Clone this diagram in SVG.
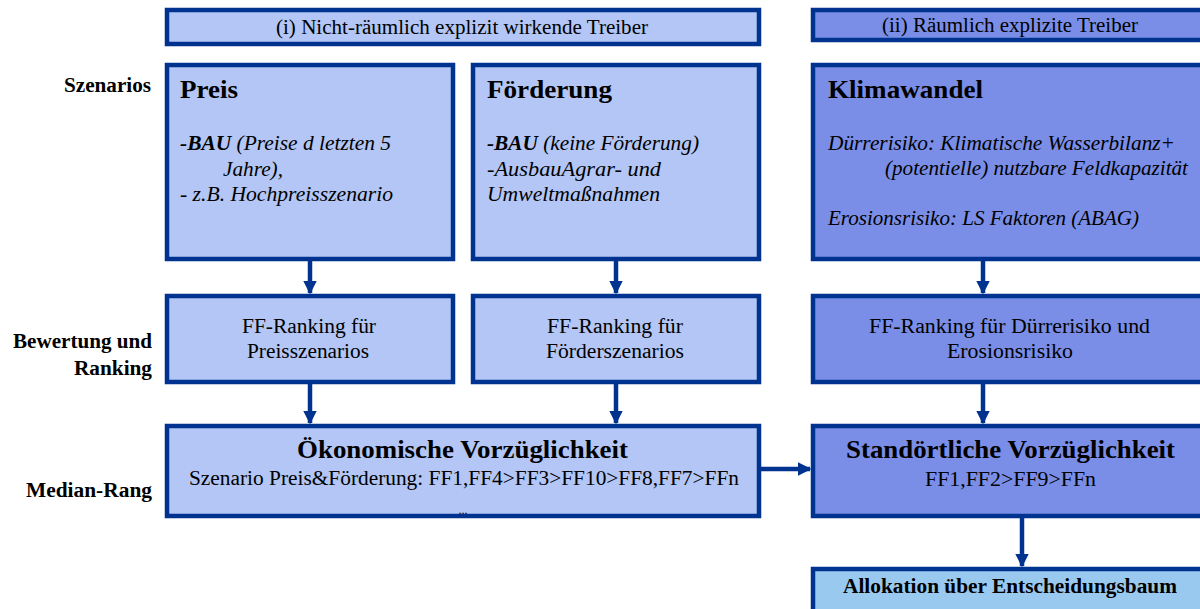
<svg xmlns="http://www.w3.org/2000/svg" width="1200" height="609" viewBox="0 0 1200 609" font-family="'Liberation Serif', 'DejaVu Serif', serif">
<style>
.lt{fill:#b3c6f5;stroke:#00338f;stroke-width:4.5}
.dk{fill:#7a8ee8;stroke:#00338f;stroke-width:4.5}
.al{fill:#9ac9f0;stroke:#00338f;stroke-width:4.5}
text{font-family:'Liberation Serif','DejaVu Serif',serif;fill:#000}
.lbl{font-weight:bold;font-size:20px}
.hd{font-size:20px}
.ttl{font-weight:bold;font-size:26px}
.it{font-style:italic;font-size:20px}
.c{font-size:20px}
.bt{font-weight:bold;font-size:26px}
.con{stroke:#00338f;stroke-width:4.5;fill:none}
</style>
<defs>
<marker id="ah" viewBox="0 0 10 10" refX="9" refY="5" markerWidth="3" markerHeight="3" orient="auto" markerUnits="strokeWidth">
<path d="M0,0 L10,5 L0,10 z" fill="#00338f"/>
</marker>
</defs>
<g id="row-labels">
<text class="lbl" x="64" y="92" textLength="87" lengthAdjust="spacingAndGlyphs">Szenarios</text>
<text class="lbl" x="13" y="348" textLength="139" lengthAdjust="spacingAndGlyphs">Bewertung und</text>
<text class="lbl" x="74" y="375" textLength="78" lengthAdjust="spacingAndGlyphs">Ranking</text>
<text class="lbl" x="26" y="497" textLength="126" lengthAdjust="spacingAndGlyphs">Median-Rang</text>
</g>
<g id="header-i">
<rect class="lt" x="167" y="10" width="592" height="34"/>
<text class="hd" x="276" y="34" textLength="372" lengthAdjust="spacingAndGlyphs">(i) Nicht-räumlich explizit wirkende Treiber</text>
</g>
<g id="header-ii">
<rect class="dk" x="813" y="10" width="400" height="30"/>
<text class="hd" x="882" y="32" textLength="256" lengthAdjust="spacingAndGlyphs">(ii) Räumlich explizite Treiber</text>
</g>
<g id="preis">
<rect class="lt" x="167" y="65" width="286" height="194"/>
<text class="ttl" x="180" y="98" textLength="58" lengthAdjust="spacingAndGlyphs">Preis</text>
<text class="it" x="180" y="150" textLength="211" lengthAdjust="spacingAndGlyphs"><tspan font-weight="bold">-BAU</tspan> (Preise d letzten 5</text>
<text class="it" x="223" y="176" textLength="60" lengthAdjust="spacingAndGlyphs">Jahre),</text>
<text class="it" x="180" y="201" textLength="213" lengthAdjust="spacingAndGlyphs">- z.B. Hochpreisszenario</text>
</g>
<g id="foerderung">
<rect class="lt" x="473" y="65" width="286" height="194"/>
<text class="ttl" x="487" y="98" textLength="125" lengthAdjust="spacingAndGlyphs">Förderung</text>
<text class="it" x="487" y="150" textLength="212" lengthAdjust="spacingAndGlyphs"><tspan font-weight="bold">-BAU</tspan> (keine Förderung)</text>
<text class="it" x="487" y="176" textLength="174" lengthAdjust="spacingAndGlyphs">-AusbauAgrar- und</text>
<text class="it" x="487" y="201" textLength="173" lengthAdjust="spacingAndGlyphs">Umweltmaßnahmen</text>
</g>
<g id="klimawandel">
<rect class="dk" x="813" y="65" width="400" height="194"/>
<text class="ttl" x="828" y="98" textLength="155" lengthAdjust="spacingAndGlyphs">Klimawandel</text>
<text class="it" x="828" y="150" textLength="347" lengthAdjust="spacingAndGlyphs">Dürrerisiko: Klimatische Wasserbilanz+</text>
<text class="it" x="885" y="175" textLength="303" lengthAdjust="spacingAndGlyphs">(potentielle) nutzbare Feldkapazität</text>
<text class="it" x="828" y="225" textLength="311" lengthAdjust="spacingAndGlyphs">Erosionsrisiko: LS Faktoren (ABAG)</text>
</g>
<g id="rank-preis">
<rect class="lt" x="167" y="296" width="286" height="86"/>
<text class="c" x="242" y="333" textLength="134" lengthAdjust="spacingAndGlyphs">FF-Ranking für</text>
<text class="c" x="247" y="358" textLength="122" lengthAdjust="spacingAndGlyphs">Preisszenarios</text>
</g>
<g id="rank-foerder">
<rect class="lt" x="473" y="296" width="286" height="86"/>
<text class="c" x="547" y="333" textLength="136" lengthAdjust="spacingAndGlyphs">FF-Ranking für</text>
<text class="c" x="546" y="358" textLength="138" lengthAdjust="spacingAndGlyphs">Förderszenarios</text>
</g>
<g id="rank-klima">
<rect class="dk" x="813" y="296" width="400" height="86"/>
<text class="c" x="869" y="333" textLength="281" lengthAdjust="spacingAndGlyphs">FF-Ranking für  Dürrerisiko und</text>
<text class="c" x="947" y="358" textLength="126" lengthAdjust="spacingAndGlyphs">Erosionsrisiko</text>
</g>
<g id="oekonomisch">
<rect class="lt" x="167" y="426" width="592" height="90"/>
<text class="bt" x="297" y="458" textLength="331" lengthAdjust="spacingAndGlyphs">Ökonomische Vorzüglichkeit</text>
<text class="c" x="189" y="485" textLength="550" lengthAdjust="spacingAndGlyphs">Szenario Preis&amp;Förderung: FF1,FF4&gt;FF3&gt;FF10&gt;FF8,FF7&gt;FFn</text>
<text x="463" y="514" font-size="12" text-anchor="middle">...</text>
</g>
<g id="standort">
<rect class="dk" x="813" y="426" width="400" height="90"/>
<text class="bt" x="846" y="458" textLength="329" lengthAdjust="spacingAndGlyphs">Standörtliche Vorzüglichkeit</text>
<text class="c" x="925" y="486" textLength="171" lengthAdjust="spacingAndGlyphs">FF1,FF2&gt;FF9&gt;FFn</text>
</g>
<g id="allokation">
<rect class="al" x="813" y="569" width="400" height="50"/>
<text x="843" y="593" font-size="20" font-weight="bold" textLength="334" lengthAdjust="spacingAndGlyphs">Allokation über Entscheidungsbaum</text>
</g>
<g id="connectors">
<line class="con" x1="310" y1="261" x2="310" y2="293" marker-end="url(#ah)"/>
<line class="con" x1="616" y1="261" x2="616" y2="293" marker-end="url(#ah)"/>
<line class="con" x1="983" y1="261" x2="983" y2="293" marker-end="url(#ah)"/>
<line class="con" x1="310" y1="384" x2="310" y2="423" marker-end="url(#ah)"/>
<line class="con" x1="616" y1="384" x2="616" y2="423" marker-end="url(#ah)"/>
<line class="con" x1="983" y1="384" x2="983" y2="423" marker-end="url(#ah)"/>
<line class="con" x1="761" y1="469" x2="810" y2="469" marker-end="url(#ah)"/>
<line class="con" x1="1022" y1="518" x2="1022" y2="566" marker-end="url(#ah)"/>
</g>
</svg>
